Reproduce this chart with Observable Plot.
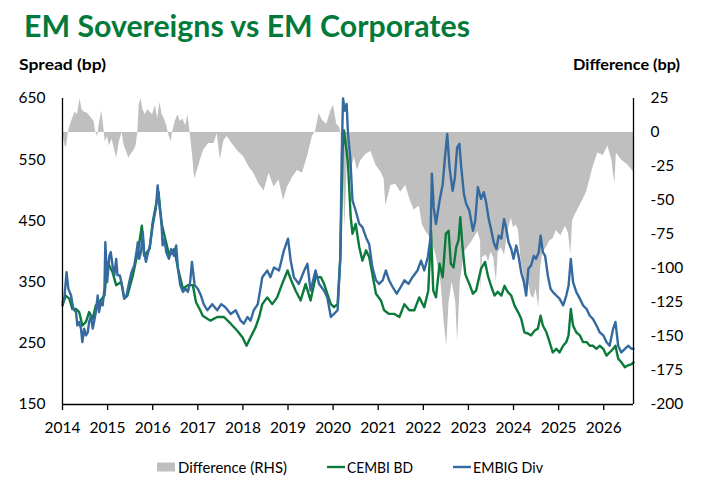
<!DOCTYPE html>
<html>
<head>
<meta charset="utf-8">
<script src="https://cdn.jsdelivr.net/npm/d3@7"></script>
<script src="https://cdn.jsdelivr.net/npm/@observablehq/plot@0.6"></script>
<style>
  html, body { margin: 0; padding: 0; background: #fff; }
  #wrap { position: relative; width: 702px; height: 492px; overflow: hidden; font-family: Lato, "Open Sans", sans-serif; }
  #head, #legend, #chart { position: absolute; left: 0; }
  #head { top: 0; }
  #chart { top: 75px; }
  #legend { top: 445px; }
</style>
</head>
<body>
<div id="wrap">
  <svg id="head" width="702" height="75"></svg>
  <div id="chart"></div>
  <svg id="legend" width="702" height="47"></svg>
</div>
<script>
// ---------- data (decimal years) ----------
const yearTicks = [2014, 2015, 2016, 2017, 2018, 2019, 2020, 2021, 2022, 2023, 2024, 2025, 2026];
const leftTicks = [150, 250, 350, 450, 550, 650];
const rightTicks = [25, 0, -25, -50, -75, -100, -125, -150, -175, -200];

const embigYears = [2014.00,2014.04,2014.09,2014.13,2014.19,2014.24,2014.30,2014.33,2014.37,2014.41,2014.44,2014.48,2014.52,2014.56,2014.59,2014.63,2014.67,2014.70,2014.74,2014.78,2014.81,2014.85,2014.89,2014.93,2014.95,2014.99,
2015.04,2015.07,2015.11,2015.15,2015.19,2015.22,2015.27,2015.32,2015.37,2015.42,2015.48,2015.53,2015.59,2015.64,2015.67,2015.70,2015.74,2015.78,2015.81,2015.85,2015.90,2015.94,2015.99,
2016.04,2016.07,2016.11,2016.15,2016.19,2016.22,2016.26,2016.30,2016.36,2016.41,2016.47,2016.52,2016.56,2016.61,2016.67,2016.73,2016.78,2016.83,2016.87,2016.93,
2017.00,2017.07,2017.13,2017.21,2017.32,2017.43,2017.52,2017.61,2017.73,2017.84,2017.95,
2018.02,2018.10,2018.17,2018.24,2018.33,2018.43,2018.54,2018.61,2018.69,2018.80,2018.91,
2019.00,2019.06,2019.13,2019.24,2019.36,2019.43,2019.50,2019.61,2019.69,2019.80,2019.87,2019.95,
2020.02,2020.10,2020.16,2020.19,2020.22,2020.26,2020.30,2020.33,2020.38,2020.43,2020.50,2020.58,2020.65,2020.73,2020.80,2020.87,2020.95,
2021.02,2021.10,2021.17,2021.24,2021.32,2021.41,2021.50,2021.58,2021.67,2021.76,2021.87,2021.95,
2022.02,2022.10,2022.16,2022.19,2022.23,2022.28,2022.36,2022.43,2022.48,2022.53,2022.58,2022.65,2022.70,2022.75,2022.80,2022.84,2022.90,2022.95,
2023.02,2023.10,2023.15,2023.21,2023.28,2023.34,2023.39,2023.45,2023.50,2023.56,2023.62,2023.67,2023.73,2023.79,2023.84,2023.89,2023.95,
2024.00,2024.06,2024.11,2024.17,2024.23,2024.28,2024.33,2024.39,2024.45,2024.50,2024.56,2024.60,2024.65,2024.70,2024.76,2024.82,2024.87,2024.95,
2025.02,2025.10,2025.17,2025.22,2025.27,2025.32,2025.39,2025.47,2025.54,2025.62,2025.69,2025.76,2025.84,2025.91,2025.99,
2026.06,2026.13,2026.21,2026.26,2026.32,2026.39,2026.47,2026.54,2026.62,2026.66];
const embigValues = [317,323,366,339,328,306,301,279,285,274,252,274,263,268,285,295,274,285,301,328,301,317,312,339,415,350,
393,399,377,361,388,361,361,345,323,328,350,366,377,399,415,388,399,432,399,383,399,410,437,
459,470,508,475,453,410,421,399,388,404,393,410,372,345,334,339,334,350,383,345,
339,328,314,304,314,304,314,309,298,304,287,
282,293,287,304,314,358,369,358,374,369,402,
421,385,358,347,369,380,336,369,347,336,325,293,
298,304,391,554,650,630,641,592,554,483,467,445,440,423,412,374,353,
347,353,369,353,342,331,342,353,347,358,369,385,
369,391,423,527,472,445,483,510,554,592,538,499,521,570,576,538,494,478,
467,434,450,505,486,497,481,453,437,415,404,426,421,453,437,415,404,
388,410,393,366,350,328,372,377,393,388,399,426,399,393,361,339,334,328,
323,312,328,344,388,350,334,323,312,306,295,290,279,268,263,
252,246,274,285,246,235,241,246,241,241];

const cembiYears = [2014.00,2014.07,2014.15,2014.22,2014.30,2014.37,2014.44,2014.52,2014.59,2014.67,2014.74,2014.81,2014.93,
2015.00,2015.11,2015.19,2015.30,2015.37,2015.44,2015.56,2015.67,2015.76,2015.81,2015.93,
2016.00,2016.07,2016.13,2016.19,2016.26,2016.37,2016.48,2016.56,2016.67,2016.78,2016.89,2016.96,
2017.04,2017.11,2017.28,2017.43,2017.58,2017.73,2017.87,2017.99,
2018.08,2018.17,2018.28,2018.36,2018.43,2018.54,2018.65,2018.76,2018.87,2018.99,
2019.07,2019.17,2019.28,2019.39,2019.50,2019.61,2019.73,2019.80,2019.87,2019.95,
2020.02,2020.10,2020.16,2020.21,2020.24,2020.28,2020.33,2020.39,2020.43,2020.50,2020.58,2020.65,2020.73,2020.80,2020.87,2020.95,
2021.06,2021.13,2021.24,2021.36,2021.47,2021.58,2021.69,2021.80,2021.91,
2022.02,2022.11,2022.17,2022.22,2022.28,2022.36,2022.43,2022.50,2022.56,2022.61,2022.67,2022.73,2022.78,2022.82,2022.87,2022.93,
2023.02,2023.10,2023.17,2023.28,2023.37,2023.43,2023.50,2023.58,2023.65,2023.73,2023.80,2023.87,2023.95,
2024.02,2024.10,2024.17,2024.24,2024.32,2024.39,2024.47,2024.54,2024.60,2024.65,2024.73,2024.80,2024.87,2024.95,
2025.02,2025.10,2025.17,2025.22,2025.27,2025.32,2025.39,2025.47,2025.54,2025.62,2025.69,2025.76,2025.84,2025.91,2025.99,
2026.06,2026.13,2026.21,2026.26,2026.32,2026.39,2026.47,2026.54,2026.62,2026.66];
const cembiValues = [312,328,323,306,306,301,279,285,301,290,312,317,328,
383,366,345,350,323,328,361,399,442,393,404,
448,475,497,448,426,393,404,372,339,345,345,317,
306,295,287,293,293,282,271,260,
246,260,276,293,314,325,314,325,347,369,
353,336,320,347,320,358,358,347,331,314,
309,314,391,565,598,576,543,456,429,445,407,385,402,391,363,331,
320,304,298,298,293,314,304,304,325,
309,336,434,336,325,380,358,429,434,380,374,407,418,456,407,363,
347,331,336,372,383,361,344,328,334,328,344,334,328,
312,301,290,268,266,263,271,274,295,279,268,252,235,241,
235,246,252,263,306,279,268,263,252,252,246,246,241,246,241,
230,235,241,246,225,219,211,214,216,219];

const diffYears = [2014.00,2014.06,2014.09,2014.13,2014.16,2014.22,2014.28,2014.33,2014.39,2014.43,2014.48,2014.56,2014.63,2014.70,2014.74,2014.78,2014.81,2014.87,2014.90,2014.95,
2015.00,2015.04,2015.10,2015.15,2015.20,2015.26,2015.32,2015.37,2015.42,2015.47,2015.52,2015.57,2015.63,2015.67,2015.70,2015.74,2015.78,2015.84,2015.89,2015.94,
2016.00,2016.06,2016.11,2016.16,2016.21,2016.26,2016.31,2016.36,2016.41,2016.44,2016.50,2016.56,2016.61,2016.67,2016.73,2016.78,2016.83,2016.89,2016.93,
2017.00,2017.07,2017.13,2017.24,2017.36,2017.43,2017.50,2017.58,2017.65,2017.76,2017.87,
2018.02,2018.13,2018.24,2018.36,2018.47,2018.58,2018.69,2018.80,2018.90,2018.99,
2019.10,2019.21,2019.32,2019.43,2019.54,2019.61,2019.69,2019.76,2019.86,2019.95,
2020.01,2020.08,2020.14,2020.17,2020.21,2020.26,2020.32,2020.39,2020.47,2020.54,2020.61,2020.73,2020.84,2020.95,
2021.06,2021.13,2021.17,2021.28,2021.39,2021.50,2021.61,2021.72,2021.80,2021.91,2021.98,
2022.06,2022.17,2022.28,2022.39,2022.46,2022.52,2022.57,2022.64,2022.72,2022.76,2022.82,2022.91,
2023.06,2023.21,2023.27,2023.28,2023.31,2023.39,2023.45,2023.50,2023.56,2023.62,2023.66,2023.73,2023.80,2023.89,2023.95,
2024.00,2024.06,2024.11,2024.17,2024.23,2024.28,2024.33,2024.39,2024.45,2024.50,2024.56,2024.60,2024.65,2024.72,2024.80,2024.88,2024.95,
2025.05,2025.15,2025.22,2025.27,2025.31,2025.36,2025.47,2025.62,2025.76,2025.87,2025.99,
2026.09,2026.18,2026.21,2026.25,2026.28,2026.39,2026.54,2026.66];
const diffValues = [0,-10,-11,0,4,10,15,13,25,17,15,14,11,8,0,-3,5,16,8,-7,
-3,-10,-5,-12,-19,-7,0,-10,-14,-19,-16,-14,-10,0,20,25,17,13,17,15,
13,20,10,22,13,10,5,-2,-7,0,8,13,8,10,5,13,0,-19,-34,
-27,-19,-13,-8,-8,-1,-20,-6,-3,-8,-13,
-18,-25,-30,-38,-43,-30,-40,-35,-50,-40,
-33,-28,-30,-18,-3,1,14,9,6,16,
20,6,4,0,-13,-70,-18,-30,-18,-28,-21,-16,-14,-24,
-29,-34,-54,-39,-38,-44,-39,-51,-57,-54,-68,
-73,-78,-90,-110,-139,-157,-125,-110,-125,-154,-110,-88,
-81,-73,-80,-118,-92,-90,-95,-88,-92,-110,-88,-85,-90,-71,-63,
-70,-68,-72,-95,-105,-118,-110,-120,-122,-115,-129,-100,-88,-85,-80,-78,-72,
-76,-69,-74,-90,-65,-61,-54,-44,-26,-15,-17,
-10,-20,-29,-37,-15,-20,-24,-29];

// ---------- helpers ----------
const X_MAX = 2026.66;
const toLeft = d => 594.444 + d * (500 / 225);   // right-axis (difference) -> left-axis coordinate
const fromLeft = v => Math.round((v - 594.444) * 225 / 500);
const GREEN = "#0B7A3A", BLUE = "#356AA0", GRAY = "#BFBFBF", TITLE = "#037A3B";

const embig = embigYears.map((t, i) => ({t, v: embigValues[i]}));
const cembi = cembiYears.map((t, i) => ({t, v: cembiValues[i]}));
const diff = diffYears.map((t, i) => ({t, v: diffValues[i]}));

const chart = Plot.plot({
  width: 702,
  height: 370,
  marginTop: 23,
  marginBottom: 41,
  marginLeft: 62,
  marginRight: 69,
  x: {domain: [2014, X_MAX], axis: null},
  y: {domain: [150, 650], axis: null},
  style: {fontFamily: "Lato, 'Open Sans', sans-serif", fontSize: "15.5px", color: "#000", background: "transparent", overflow: "visible"},
  marks: [
    Plot.areaY(diff, {x: "t", y1: () => toLeft(0), y2: d => toLeft(d.v), fill: GRAY, curve: "linear"}),
    Plot.line(cembi, {x: "t", y: "v", stroke: GREEN, strokeWidth: 2.4}),
    Plot.line(embig, {x: "t", y: "v", stroke: BLUE, strokeWidth: 2.4}),
    Plot.ruleX([2014, X_MAX], {stroke: "#000", strokeWidth: 1.3}),
    Plot.ruleY([150], {stroke: "#000", strokeWidth: 1.3}),
    Plot.axisX(yearTicks, {anchor: "bottom", tickSize: 6, tickPadding: 11, tickFormat: d => String(d), label: null, stroke: "#000", strokeWidth: 1.3}),
    Plot.axisY(leftTicks, {anchor: "left", tickSize: 0, tickPadding: 17, tickFormat: d => String(d), label: null}),
    Plot.axisY(rightTicks.map(toLeft), {anchor: "right", tickSize: 0, tickPadding: 17, tickFormat: v => String(fromLeft(v)), label: null})
  ]
});
document.getElementById("chart").appendChild(chart);

// ---------- header: title and axis titles ----------
const head = d3.select("#head");
head.append("text").attr("x", 24).attr("y", 37)
  .attr("font-family", "Lato, 'Open Sans', sans-serif").attr("font-weight", "bold").attr("font-size", 30)
  .attr("fill", TITLE).attr("textLength", 446).attr("lengthAdjust", "spacingAndGlyphs")
  .text("EM Sovereigns vs EM Corporates");
head.append("text").attr("x", 19).attr("y", 70)
  .attr("font-family", "Lato, 'Open Sans', sans-serif").attr("font-weight", "bold").attr("font-size", 15.5)
  .attr("fill", "#000").attr("textLength", 87).attr("lengthAdjust", "spacingAndGlyphs")
  .text("Spread (bp)");
head.append("text").attr("x", 573).attr("y", 70)
  .attr("font-family", "Lato, 'Open Sans', sans-serif").attr("font-weight", "bold").attr("font-size", 15.5)
  .attr("fill", "#000").attr("textLength", 107).attr("lengthAdjust", "spacingAndGlyphs")
  .text("Difference (bp)");

// ---------- legend ----------
const lg = d3.select("#legend");
const ly = 22; // centre line (page y ≈ 467)
const legendItems = [
  {label: "Difference (RHS)", type: "rect", color: GRAY, x0: 157, tx: 178, w: 109},
  {label: "CEMBI BD", type: "line", color: GREEN, x0: 327, tx: 347, w: 66},
  {label: "EMBIG Div", type: "line", color: BLUE, x0: 453, tx: 473, w: 70}
];
legendItems.forEach(it => {
  if (it.type === "rect") {
    lg.append("rect").attr("x", it.x0).attr("y", ly - 4.5).attr("width", 18).attr("height", 9).attr("fill", it.color);
  } else {
    lg.append("line").attr("x1", it.x0).attr("x2", it.x0 + 18).attr("y1", ly).attr("y2", ly)
      .attr("stroke", it.color).attr("stroke-width", 2.4);
  }
  lg.append("text").attr("x", it.tx).attr("y", ly + 6)
    .attr("font-family", "Lato, 'Open Sans', sans-serif").attr("font-size", 16)
    .attr("fill", "#000").attr("textLength", it.w).attr("lengthAdjust", "spacingAndGlyphs")
    .text(it.label);
});
</script>
</body>
</html>
